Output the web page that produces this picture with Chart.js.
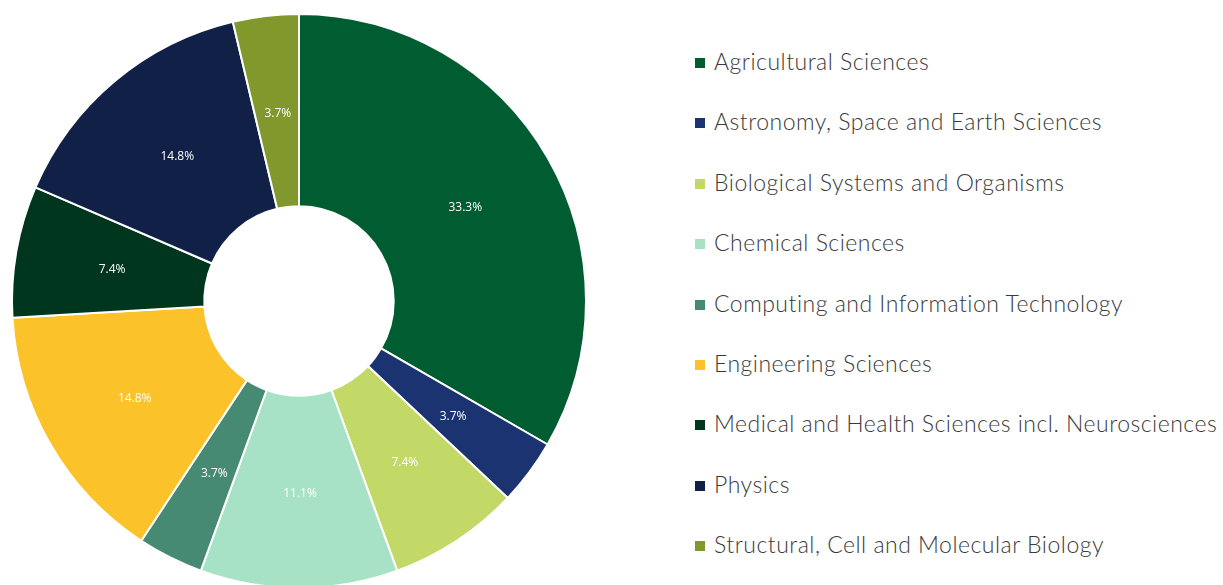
<!DOCTYPE html>
<html>
<head>
<meta charset="utf-8">
<script src="https://cdn.jsdelivr.net/npm/chart.js@4/dist/chart.umd.min.js"></script>
<style>
  html, body { margin: 0; padding: 0; background: #fff; overflow: hidden; }
  .wrap { position: relative; width: 1223px; height: 585px; overflow: hidden; }
  .chart-box { position: absolute; left: 0; top: 0; width: 598px; height: 590px; }
  #legend { position: absolute; left: 695px; top: 44px; margin: 0; padding: 0; list-style: none;
            font-family: Lato, "Noto Sans", sans-serif; font-weight: 300; font-size: 23px;
            letter-spacing: 0.5px; color: #3a3a3a; }
  #legend li { height: 60.4px; line-height: 34px; white-space: nowrap; }
  #legend span.box { display: inline-block; width: 10px; height: 10px; margin-right: 9px; vertical-align: 2px; }
</style>
</head>
<body>
<div class="wrap">
  <div class="chart-box"><canvas id="fieldsChart"></canvas></div>
  <ul id="legend"></ul>
</div>
<script>
const fields = [
    'Agricultural Sciences',
    'Astronomy, Space and Earth Sciences',
    'Biological Systems and Organisms',
    'Chemical Sciences',
    'Computing and Information Technology',
    'Engineering Sciences',
    'Medical and Health Sciences incl. Neurosciences',
    'Physics',
    'Structural, Cell and Molecular Biology'
];
const shares = [33.3, 3.7, 7.4, 11.1, 3.7, 14.8, 7.4, 14.8, 3.7];
const colours = ['#005C31', '#1B3370', '#C2D967', '#A8E2C6', '#478A73', '#FBC22A', '#00361E', '#112047', '#81982C'];

// percent labels in the middle of each slice
const sliceLabels = {
    id: 'sliceLabels',
    afterDatasetsDraw(chart) {
        const c = chart.ctx;
        const meta = chart.getDatasetMeta(0);
        c.save();
        c.fillStyle = '#ffffff';
        c.font = '12px "Open Sans", sans-serif';
        c.textAlign = 'center';
        c.textBaseline = 'middle';
        meta.data.forEach((arc, i) => {
            const p = arc.tooltipPosition();
            c.fillText(shares[i].toFixed(1) + '%', p.x + 1, p.y + 2);
        });
        c.restore();
    }
};

const ctx = document.getElementById('fieldsChart').getContext('2d');
const fieldsChart = new Chart(ctx, {
    type: 'doughnut',
    data: {
        labels: fields,
        datasets: [{
            data: shares,
            backgroundColor: colours,
            borderColor: '#ffffff',
            borderWidth: 2
        }]
    },
    options: {
        responsive: true,
        maintainAspectRatio: false,
        animation: false,
        cutout: '33%',
        layout: { padding: { top: 13, bottom: 1 } },
        plugins: {
            legend: { display: false },
            tooltip: { enabled: false }
        }
    },
    plugins: [sliceLabels]
});

const legend = document.getElementById('legend');
fields.forEach((name, i) => {
    const li = document.createElement('li');
    li.innerHTML = `<span class="box" style="background:${colours[i]}"></span>${name}`;
    legend.appendChild(li);
});
</script>
</body>
</html>
